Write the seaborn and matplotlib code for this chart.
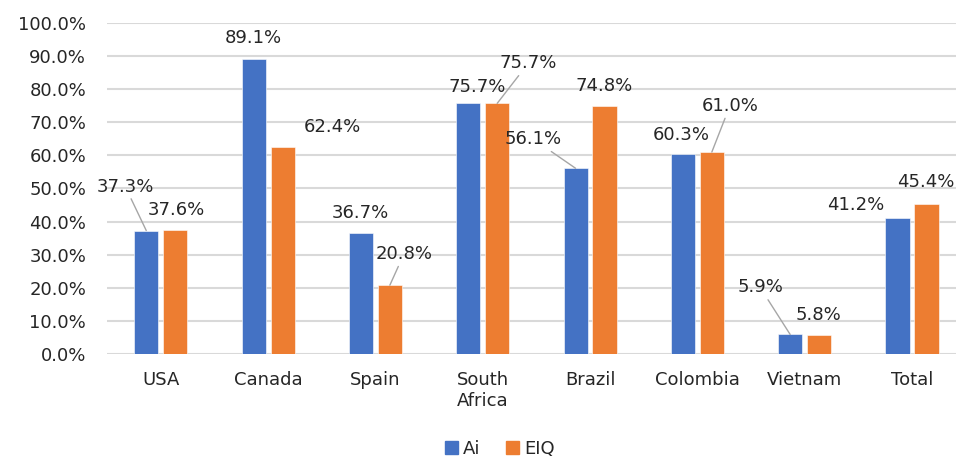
import numpy as np
import pandas as pd
import seaborn as sns
import matplotlib.pyplot as plt
from matplotlib.ticker import FuncFormatter

sns.set_style("white")
plt.rcParams['font.family'] = ['DejaVu Sans']

# data
countries = ["USA", "Canada", "Spain", "South\nAfrica", "Brazil", "Colombia", "Vietnam", "Total"]
ai = [37.3, 89.1, 36.7, 75.7, 56.1, 60.3, 5.9, 41.2]
eiq = [37.6, 62.4, 20.8, 75.7, 74.8, 61.0, 5.8, 45.4]
series = ["Ai", "EIQ"]
colors = ["#4472C4", "#ED7D31"]

df = pd.DataFrame({
    "country": countries * 2,
    "value": ai + eiq,
    "series": ["Ai"] * len(ai) + ["EIQ"] * len(eiq),
})

# label offsets in pixels (dx, dy, leader line)
offs_ai = [(-21, 44, True), (0, 21, False), (-1, 20, False), (9, 16, False),
           (-42, 29, True), (-2, 19, False), (-30, 47, True), (-42, 13, False)]
offs_eiq = [(1, 20, False), (50, 20, False), (14, 31, True), (31, 40, True),
            (0, 20, False), (18, 46, True), (-1, 20, False), (-1, 22, False)]

fig = plt.figure(figsize=(9.56, 4.58), dpi=100)
ax = fig.add_axes([0.112, 0.227, 0.888, 0.723])

sns.barplot(data=df, x="country", y="value", hue="series", hue_order=series,
            palette=colors, saturation=1, width=0.54, gap=0.17, ax=ax,
            edgecolor="white", linewidth=0.4)

ax.set_ylim(0, 100)
ax.set_xlim(-0.5, 7.41)
ax.set_yticks(np.arange(0, 101, 10))
ax.yaxis.set_major_formatter(FuncFormatter(lambda v, p: f"{v:.1f}%"))
ax.grid(axis="y", color="#d9d9d9", linewidth=1.5)
ax.set_axisbelow(True)
for s in ax.spines.values():
    s.set_visible(False)
ax.tick_params(axis="both", length=0, labelsize=13, colors="#262626")
ax.tick_params(axis="x", pad=12)
ax.tick_params(axis="y", pad=15)
ax.set_xlabel("")
ax.set_ylabel("")

for cont, offs in zip(ax.containers, [offs_ai, offs_eiq]):
    for bar, (dx, dy, lead) in zip(cont.patches, offs):
        x = bar.get_x() + bar.get_width() / 2
        h = bar.get_height()
        kw = {}
        if lead:
            kw["arrowprops"] = dict(arrowstyle="-", color="#a6a6a6", lw=1,
                                    shrinkA=0, shrinkB=0)
        ax.annotate(f"{h:.1f}%", xy=(x, h), xytext=(dx, dy),
                    textcoords="offset pixels", ha="center", va="center",
                    fontsize=13, color="#262626", annotation_clip=False, **kw)

ax.legend_.remove()
handles = [plt.Rectangle((0, 0), 1, 1, color=c) for c in colors]
fig.legend(handles, series, loc="lower center", bbox_to_anchor=(0.523, -0.035),
           ncol=2, frameon=False, fontsize=13, handlelength=0.7,
           handleheight=0.7, handletextpad=0.3, columnspacing=1.4)

fig.savefig("out.png", dpi=100)
plt.close()
